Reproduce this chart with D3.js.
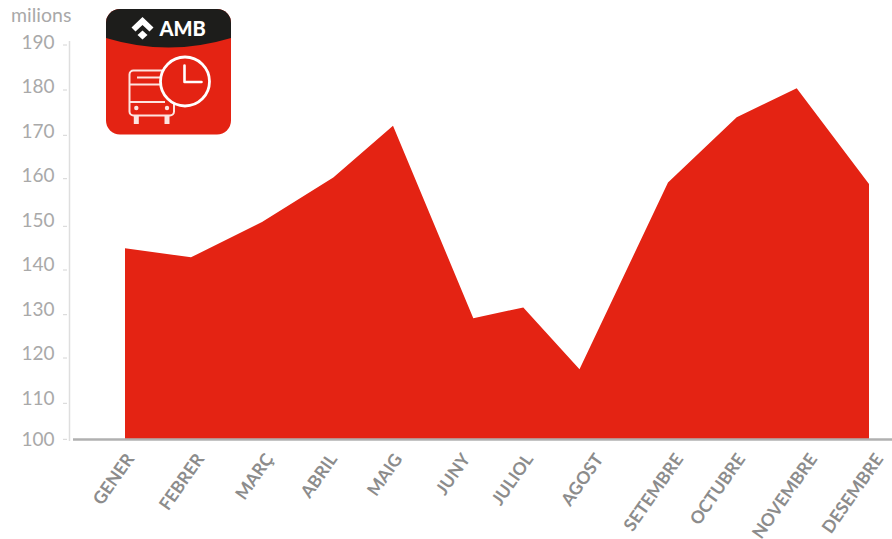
<!DOCTYPE html>
<html><head><meta charset="utf-8">
<script src="https://cdn.jsdelivr.net/npm/d3@7"></script>
<style>html,body{margin:0;padding:0;background:#fff}svg{display:block}</style>
</head><body><svg id="c" width="892" height="539"></svg>
<script>
const months = ["GENER","FEBRER","MARÇ","ABRIL","MAIG","JUNY","JULIOL","AGOST","SETEMBRE","OCTUBRE","NOVEMBRE","DESEMBRE"];
const passengers = [145.0,142.9,150.9,160.3,172.1,129.2,131.6,117.5,159.2,174.0,180.4,158.9];
const yTicks = [100,110,120,130,140,150,160,170,180,190];
const unitLabel = "milions";

const svg = d3.select("#c");
const idx = d3.range(months.length);
// The source chart is hand-spaced, so the scales are piecewise
const x = d3.scaleLinear().domain(idx).range([125,191,262,333.3,393,473.3,523.3,579.5,668,736.7,796.7,869]);
const xLabel = d3.scaleLinear().domain(idx).range([125,195,264,328,393,461,524,594,674,736,808,874]);
const y = d3.scaleLinear().domain(yTicks).range([439.3,403.3,358,314.7,270,226.3,178.7,135.3,90,45]);
const yLabel = d3.scaleLinear().domain([100,110,190]).range([439.5,398,41.7]);

const grey = "#a9a9a9";
// area
svg.append("path").datum(idx)
  .attr("fill","#e42313")
  .attr("d", d3.area().x(i=>x(i)).y0(y(100)).y1(i=>y(passengers[i])));
// x baseline
svg.append("line").attr("x1",73).attr("x2",892).attr("y1",439.5).attr("y2",439.5)
  .attr("stroke","#b0b0b0").attr("stroke-width",2.5);
// y axis
svg.append("line").attr("x1",69.5).attr("x2",69.5).attr("y1",41).attr("y2",441)
  .attr("stroke","#dedede").attr("stroke-width",1.5);
const yt = svg.append("g").selectAll("g").data(yTicks).join("g");
yt.append("line").attr("x1",63).attr("x2",67).attr("y1",d=>y(d)).attr("y2",d=>y(d))
  .attr("stroke","#d4d4d4").attr("stroke-width",1);
yt.append("text").attr("x",54.5).attr("y",d=>yLabel(d)).attr("dy","0.36em").attr("text-anchor","end")
  .attr("font-family","Lato").attr("font-size",19).attr("fill",grey).text(d=>d);
svg.append("text").attr("x",11).attr("y",21.5).attr("font-family","Lato").attr("font-size",19.5)
  .attr("fill",grey).text(unitLabel);
// x labels
svg.append("g").selectAll("text").data(idx).join("text")
  .attr("transform",i=>`translate(${xLabel(i)},452) rotate(-55)`)
  .attr("text-anchor","end").attr("dy","0.7em")
  .attr("font-family","Lato").attr("font-weight",700).attr("font-size",17.5).attr("fill","#8c8c8c")
  .text(i=>months[i]);

// logo
const logo = svg.append("g");
const red="#e42313", pale="#fde4e0";
logo.append("rect").attr("x",106).attr("y",9).attr("width",125).attr("height",125.5).attr("rx",14).attr("fill",red);
logo.append("path").attr("fill","#1d1d1b")
  .attr("d","M106,38 V23 A14,14 0 0 1 120,9 H217 A14,14 0 0 1 231,23 V38 Q168.5,57 106,38 Z");
logo.append("path").attr("fill","#fff").attr("d","M142.5,17 L153.5,27.5 L149.5,31.5 L142.5,25 L135.5,31.5 L131.5,27.5 Z");
logo.append("path").attr("fill","#fff").attr("d","M142.5,30.5 L147.5,35 L142.5,39.5 L137.5,35 Z");
logo.append("text").attr("x",159.5).attr("y",35.5).attr("font-family","Lato").attr("font-weight",900)
  .attr("font-size",20).attr("fill","#fff").text("AMB");
const bus = logo.append("g").attr("fill","none").attr("stroke",pale).attr("stroke-width",2);
bus.append("rect").attr("x",129.5).attr("y",70.5).attr("width",44.5).attr("height",45).attr("rx",4);
bus.append("line").attr("x1",129).attr("x2",162).attr("y1",84.5).attr("y2",84.5);
bus.append("line").attr("x1",137).attr("x2",160).attr("y1",77.5).attr("y2",77.5);
bus.append("line").attr("x1",129).attr("x2",165).attr("y1",102).attr("y2",102);
[136.3,167].forEach(cx=>{
  logo.append("circle").attr("cx",cx).attr("cy",108).attr("r",2.2).attr("fill",pale);
  logo.append("rect").attr("x",cx-2.5).attr("y",116).attr("width",5).attr("height",8).attr("fill",pale);
});
logo.append("circle").attr("cx",185).attr("cy",81.5).attr("r",24.5).attr("fill",red).attr("stroke","#fff").attr("stroke-width",2.8);
logo.append("path").attr("fill","none").attr("stroke","#fff").attr("stroke-width",2.6)
  .attr("stroke-linecap","round").attr("stroke-linejoin","round").attr("d","M184.5,65.5 V82 H201.5");
</script></body></html>
